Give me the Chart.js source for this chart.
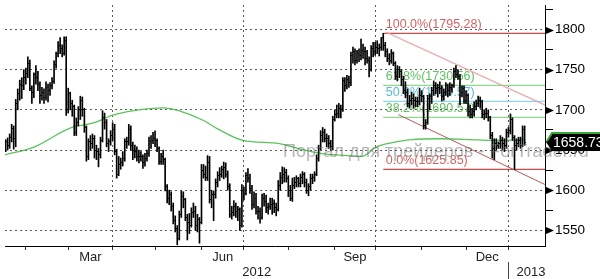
<!DOCTYPE html>
<html>
<head>
<meta charset="utf-8">
<title>Gold 2012</title>
<script src="https://cdn.jsdelivr.net/npm/chart.js@4.4.1/dist/chart.umd.min.js"></script>
<style>
html,body{margin:0;padding:0;background:#fff;overflow:hidden}
#box{position:relative;width:600px;height:279px}
canvas{display:block}
</style>
</head>
<body>
<div id="box"><canvas id="chart" width="600" height="279"></canvas></div>
<script>
// ---------------- DATA ----------------
// one bar per weekday, 2012-01-18 .. 2013-01-11
const open = [
1652,1660,1656,
1666,1677,1664,1708,1720, 1732,1730,1740,1745,1758, 1727,1722,1744,1740,1732, 1718,1722,1715,1728,1724,
1730,1735,1757,1770,1780, 1776,1770,1786,1700,1720, 1708,1704,1672,1684,1700, 1712,1700,1678,1642,1660,
1658,1664,1650,1648,1644, 1662,1690,1684,1658,1660, 1668,1676,1648,1620,1632, 1634,1640,1660,1660,1676,
1656,1650,1648,1642,1642, 1642,1634,1640,1646,1660, 1662,1664,1662,1652,1636, 1642,1638,1604,1590,1594,
1580,1562,1552,1540,1570, 1592,1588,1566,1560,1556, 1572,1574,1556,1564,1560, 1624,1620,1616,1634,1588,
1594,1594,1610,1618,1620, 1626,1628,1620,1604,1570, 1572,1580,1574,1576,1556, 1600,1596,1618,1614,1602,
1582,1590,1574,1574,1566, 1590,1586,1578,1580,1582, 1584,1578,1576,1606,1616, 1620,1622,1614,1600,1590,
1606,1610,1614,1608,1616, 1620,1610,1600,1604,1614, 1616,1620,1640,1652,1668, 1672,1664,1664,1658,1654,
1688,1694,1696,1702,1700, 1736,1730,1738,1734,1768, 1772,1762,1770,1768,1774, 1772,1764,1762,1750,1776,
1772,1778,1776,1778,1790, 1780,1772,1764,1762,1770, 1758,1742,1750,1748,1738, 1724,1722,1708,1712,1714,
1712,1710,1710,1718,1716, 1680,1684,1714,1716,1724, 1730,1726,1728,1726,1716, 1722,1730,1724,1728,1730,
1748,1744,1742,1722,1726, 1712,1718,1698,1694,1698, 1704,1708,1712,1710,1694, 1696,1696,1690,1668,1652,
1658,1656,1658,1662,1658, 1656,1672,1674,1688,1666, 1656,1658,1662,1656,1676
];
const high = [
1663,1665,1670,
1682,1680,1713,1726,1737, 1740,1750,1752,1766,1762, 1730,1746,1755,1748,1735, 1728,1726,1735,1732,1734,
1740,1761,1772,1785,1790, 1781,1791,1791,1727,1722, 1712,1706,1690,1704,1717, 1716,1702,1680,1664,1668,
1670,1668,1656,1652,1666, 1699,1696,1688,1664,1674, 1684,1682,1651,1642,1640, 1648,1664,1666,1682,1680,
1660,1656,1654,1650,1648, 1644,1646,1650,1666,1668, 1672,1674,1664,1654,1646, 1650,1640,1607,1600,1598,
1584,1568,1556,1574,1599, 1598,1590,1570,1571,1578, 1584,1580,1570,1566,1632, 1632,1630,1643,1642,1600,
1599,1614,1623,1628,1630, 1635,1634,1624,1608,1580, 1587,1584,1580,1578,1607, 1604,1622,1627,1620,1606,
1598,1596,1580,1578,1595, 1596,1594,1584,1590,1590, 1588,1584,1612,1622,1629, 1628,1626,1618,1606,1615,
1616,1618,1616,1620,1623, 1622,1614,1608,1620,1620, 1623,1644,1656,1674,1678, 1676,1670,1668,1662,1692,
1700,1706,1708,1706,1740, 1740,1743,1742,1772,1778, 1776,1774,1776,1788,1782, 1778,1774,1766,1780,1784,
1784,1786,1782,1790,1795.28, 1784,1776,1770,1775,1772, 1760,1755,1754,1750,1742, 1735,1726,1718,1722,1720,
1716,1716,1727,1724,1718, 1688,1718,1720,1728,1736, 1734,1732,1735,1730,1726, 1734,1732,1734,1732,1752,
1755,1750,1744,1730,1730, 1724,1720,1706,1702,1710, 1712,1717,1716,1712,1700, 1702,1700,1692,1672,1664,
1664,1660,1668,1666,1664, 1676,1678,1695,1690,1668, 1664,1666,1666,1680,1680
];
const low = [
1648,1650,1652,
1660,1651,1654,1700,1712, 1714,1725,1732,1740,1724, 1708,1715,1732,1724,1708, 1712,1708,1712,1710,1718,
1726,1733,1752,1766,1770, 1766,1768,1693,1696,1700, 1692,1668,1668,1680,1688, 1692,1672,1636,1638,1650,
1652,1640,1638,1629,1640, 1660,1676,1654,1648,1656, 1662,1644,1615,1618,1626, 1630,1636,1652,1656,1650,
1638,1640,1636,1634,1636, 1627,1630,1636,1642,1652, 1658,1654,1648,1632,1632, 1632,1599,1584,1582,1574,
1558,1548,1532,1538,1566, 1578,1562,1538,1546,1554, 1566,1550,1548,1534,1558, 1615,1612,1612,1584,1578,
1562,1590,1604,1612,1616, 1614,1616,1600,1566,1564, 1568,1566,1562,1550,1554, 1588,1594,1610,1596,1576,
1578,1570,1564,1559,1564, 1580,1572,1570,1576,1570, 1572,1568,1574,1600,1608, 1610,1610,1592,1587,1586,
1602,1604,1604,1604,1608, 1604,1596,1593,1600,1608, 1611,1618,1636,1650,1660, 1660,1654,1652,1650,1650,
1686,1690,1690,1690,1698, 1723,1726,1728,1730,1758, 1756,1758,1760,1762,1764, 1756,1758,1741,1748,1766,
1768,1770,1767,1774,1774, 1766,1760,1756,1758,1755, 1738,1736,1740,1730,1720, 1715,1704,1702,1706,1702,
1704,1704,1706,1710,1676, 1676,1682,1700,1708,1718, 1720,1716,1720,1711,1712, 1718,1716,1718,1722,1728,
1740,1738,1706,1716,1708, 1708,1692,1690,1690,1692, 1700,1704,1702,1690,1688, 1690,1686,1664,1640,1638,
1650,1652,1652,1650,1648, 1652,1666,1670,1662,1625.85, 1650,1654,1652,1654,1656
];
const close = [
1660,1656,1666,
1677,1664,1708,1720,1732, 1730,1740,1745,1758,1727, 1722,1744,1740,1732,1718, 1722,1715,1728,1724,1730,
1735,1757,1770,1780,1776, 1770,1786,1700,1720,1708, 1704,1672,1684,1700,1712, 1700,1678,1642,1660,1658,
1664,1650,1648,1644,1662, 1690,1684,1658,1660,1668, 1676,1648,1620,1632,1634, 1640,1660,1660,1676,1656,
1650,1648,1642,1642,1642, 1634,1640,1646,1660,1662, 1664,1662,1652,1636,1642, 1638,1604,1590,1594,1580,
1562,1552,1540,1570,1592, 1588,1566,1560,1556,1572, 1574,1556,1564,1560,1624, 1620,1616,1634,1588,1594,
1594,1610,1618,1620,1626, 1628,1620,1604,1570,1572, 1580,1574,1576,1556,1600, 1596,1618,1614,1602,1582,
1590,1574,1574,1566,1590, 1586,1578,1580,1582,1584, 1578,1576,1606,1616,1620, 1622,1614,1600,1590,1606,
1610,1614,1608,1616,1620, 1610,1600,1604,1614,1616, 1620,1640,1652,1668,1672, 1664,1664,1658,1654,1688,
1694,1696,1702,1700,1736, 1730,1738,1734,1768,1772, 1762,1770,1768,1774,1772, 1764,1762,1750,1776,1772,
1778,1776,1778,1790,1780, 1772,1764,1762,1770,1758, 1742,1750,1748,1738,1724, 1722,1708,1712,1714,1712,
1710,1710,1718,1716,1680, 1684,1714,1716,1724,1730, 1726,1728,1726,1716,1722, 1730,1724,1728,1730,1748,
1744,1742,1722,1726,1712, 1718,1698,1694,1698,1704, 1708,1712,1710,1694,1696, 1696,1690,1668,1652,1658,
1656,1658,1662,1658,1656, 1672,1674,1688,1666,1656, 1658,1662,1656,1676,1658.73
];
// moving average read at sample points (bar index, price)
const maIndex = [-0.3, 14.4, 31.6, 43.9, 52.7, 63.5, 78.2, 85.6, 97.8, 105.2, 117.5, 135.6, 145.4, 156.7, 166.5, 176.3, 183.7, 191, 201, 215.6, 230.3, 240.1, 257.3];
const maValue = [1644, 1654, 1677, 1684, 1693, 1699, 1702.5, 1699, 1687, 1676, 1662, 1658, 1651.5, 1645.5, 1643.5, 1642, 1654, 1659, 1663, 1664, 1663, 1662, 1662.5];
// Fibonacci retracement levels
const fibPct = ['100.0%', '61.8%', '50.0%', '38.2%', '0.0%'];
const fibValue = [1795.28, 1730.56, 1710.57, 1690.57, 1625.85];
// descending channel (bar index, price)
const chanUpperX = [188.6, 267.1], chanUpperY = [1796.3, 1706];
const chanLowerX = [194.5, 267.1], chanLowerY = [1694, 1607];
// axes
const yMin = 1530.5, yMax = 1830.5, yStep = 25, yLabelStep = 50;
const yTickValues = [1550, 1575, 1600, 1625, 1650, 1675, 1700, 1725, 1750, 1775, 1800, 1825];
const xMin = -0.3, xMax = 267.1;
const monthNames = ['Jan','Feb','Mar','Apr','May','Jun','Jul','Aug','Sep','Oct','Nov','Dec'];
const labelledMonths = [2, 5, 8, 11];
const quarterMonths = [0, 3, 6, 9];
const watermark = 'Портал для трейдеров - ForTrader.ru';

// ---------------- derived ----------------
const tradeDates = [];
for (let d = new Date(2012, 0, 18); d <= new Date(2013, 0, 11); d.setDate(d.getDate() + 1)) {
  const w = d.getDay();
  if (w !== 0 && w !== 6) tradeDates.push(new Date(d));
}
const monthStarts = [];
tradeDates.forEach((d, i) => {
  if (i > 0 && d.getMonth() !== tradeDates[i - 1].getMonth()) monthStarts.push({ i, m: d.getMonth(), y: d.getFullYear() });
});
const labelTicks = [];
monthStarts.forEach((s, k) => {
  const nx = monthStarts[k + 1];
  if (nx && labelledMonths.includes(s.m)) labelTicks.push({ v: (s.i + nx.i) / 2, t: monthNames[s.m] });
});
const monthStartIdx = monthStarts.map(s => s.i);
const quarterIdx = monthStarts.filter(s => quarterMonths.includes(s.m)).map(s => s.i);
const yearStart = monthStarts.find(s => s.y === 2013).i;
const peakIdx = high.indexOf(Math.max(...high));

const idx = open.map((_, i) => i);
const hlData = idx.map(i => ({ x: i, y: [low[i], high[i]] }));
const openData = idx.map(i => ({ x: i, y: open[i] }));
const closeData = idx.map(i => ({ x: i, y: close[i] }));
const maData = maIndex.map((v, k) => ({ x: v, y: maValue[k] }));

function tickImage(side) {
  const c = document.createElement('canvas');
  c.width = 3; c.height = 1;
  const g = c.getContext('2d');
  g.fillStyle = '#000';
  if (side < 0) g.fillRect(0, 0, 1, 1); else g.fillRect(2, 0, 1, 1);
  return c;
}
const openImg = tickImage(-1), closeImg = tickImage(1);

const fibLine = ['#cc4a4a', '#8fd88f', '#8ed6ea', '#8fd88f', '#cc4a4a'];
const fibText = ['#d26464', '#62c262', '#5ab8da', '#62c262', '#d26464'];

const fibSets = fibValue.map((v, k) => ({
  type: 'line', order: 3,
  data: [{ x: peakIdx, y: v }, { x: xMax, y: v }],
  borderColor: fibLine[k], borderWidth: 1.2, pointRadius: 0, fill: false
}));

const FONT = '"Liberation Sans", Arial, sans-serif';
const GRID = '#5a5a5a';
const DASH = [2, 3];

const overlay = {
  id: 'overlay',
  beforeDatasetsDraw(chart) {
    const { ctx, scales: { x, y } } = chart;
    ctx.save();
    ctx.font = '12.5px ' + FONT;
    ctx.textAlign = 'left';
    ctx.textBaseline = 'alphabetic';
    const px = x.getPixelForValue(peakIdx) + 2.5;
    fibValue.forEach((v, k) => {
      ctx.fillStyle = fibText[k];
      ctx.fillText(fibPct[k] + '(' + v.toFixed(2) + ')', px, y.getPixelForValue(v) - 5);
    });
    ctx.restore();
  },
  afterDraw(chart) {
    const { ctx, chartArea, scales: { x, y } } = chart;
    ctx.save();
    // arrows on major y ticks
    ctx.fillStyle = '#000';
    y.ticks.forEach(t => {
      if (t.value % yLabelStep === 0) {
        const py = Math.round(y.getPixelForValue(t.value)) + 0.5;
        ctx.beginPath();
        ctx.moveTo(y.left + 1, py - 3.5);
        ctx.lineTo(y.left + 9, py);
        ctx.lineTo(y.left + 1, py + 3.5);
        ctx.closePath();
        ctx.fill();
      }
    });
    // year labels
    ctx.font = '13px ' + FONT;
    ctx.fillStyle = '#222';
    ctx.textBaseline = 'alphabetic';
    const xj = x.getPixelForValue(yearStart);
    ctx.textAlign = 'center';
    ctx.fillText('2012', (chartArea.left + xj) / 2, 276);
    ctx.textAlign = 'left';
    ctx.fillText('2013', xj + 8, 276);
    ctx.strokeStyle = '#444';
    ctx.lineWidth = 1;
    ctx.beginPath();
    ctx.moveTo(Math.round(xj) + 0.5, 262);
    ctx.lineTo(Math.round(xj) + 0.5, 279);
    ctx.stroke();
    // watermark
    ctx.font = '18px ' + FONT;
    ctx.fillStyle = 'rgba(110,110,110,0.5)';
    ctx.textAlign = 'left';
    ctx.fillText(watermark, 283, 157);
    // last price box
    const last = close[close.length - 1];
    const py = y.getPixelForValue(last);
    ctx.beginPath();
    ctx.moveTo(y.left + 1, py - 1);
    ctx.lineTo(y.left + 7, py - 11);
    ctx.lineTo(chart.width, py - 11);
    ctx.lineTo(chart.width, py + 8);
    ctx.lineTo(y.left + 7, py + 8);
    ctx.closePath();
    ctx.fillStyle = '#000';
    ctx.fill();
    ctx.beginPath();
    ctx.moveTo(y.left + 2, py - 2);
    ctx.lineTo(y.left + 7, py - 10);
    ctx.lineTo(chart.width, py - 10);
    ctx.strokeStyle = '#35a835';
    ctx.lineWidth = 2;
    ctx.stroke();
    ctx.fillStyle = '#fff';
    ctx.font = '14px ' + FONT;
    ctx.textBaseline = 'middle';
    ctx.fillText(last.toFixed(2), y.left + 8, py);
    ctx.restore();
  }
};

new Chart(document.getElementById('chart'), {
  type: 'bar',
  data: {
    datasets: [
      { type: 'bar', order: 0, data: hlData, backgroundColor: '#000', borderWidth: 0, barThickness: 1, grouped: false },
      { type: 'scatter', order: 0, data: openData, pointStyle: openImg, pointRadius: 3, showLine: false },
      { type: 'scatter', order: 0, data: closeData, pointStyle: closeImg, pointRadius: 3, showLine: false },
      { type: 'line', order: 2, data: maData, borderColor: 'rgba(72,190,72,0.9)', borderWidth: 1.3, pointRadius: 0, cubicInterpolationMode: 'monotone', fill: false },
      { type: 'line', order: 3, data: chanUpperX.map((v, k) => ({ x: v, y: chanUpperY[k] })), borderColor: 'rgba(228,168,168,0.9)', borderWidth: 1.4, pointRadius: 0 },
      { type: 'line', order: 3, data: chanLowerX.map((v, k) => ({ x: v, y: chanLowerY[k] })), borderColor: '#b85858', borderWidth: 1, pointRadius: 0 },
      ...fibSets
    ]
  },
  options: {
    responsive: false,
    animation: false,
    devicePixelRatio: 1,
    events: [],
    layout: { padding: 0 },
    plugins: { legend: { display: false }, tooltip: { enabled: false } },
    scales: {
      x: {
        type: 'linear', position: 'bottom', min: xMin, max: xMax, offset: false,
        afterBuildTicks(s) {
          const vals = monthStartIdx.concat(labelTicks.map(l => l.v)).sort((a, b) => a - b);
          s.ticks = vals.map(v => ({ value: v }));
        },
        afterFit(s) { s.height = 33; s.paddingLeft = 0; s.paddingRight = 0; },
        ticks: {
          autoSkip: false, maxRotation: 0, minRotation: 0, padding: 0,
          color: '#222', font: { family: FONT, size: 13 },
          callback(v) { const l = labelTicks.find(t => t.v === v); return l ? l.t : ''; }
        },
        grid: {
          offset: false, drawOnChartArea: true, tickLength: 4, lineWidth: 1, borderDash: DASH,
          color: c => (c.tick && quarterIdx.includes(c.tick.value)) ? GRID : 'rgba(0,0,0,0)',
          tickColor: c => (c.tick && monthStartIdx.includes(c.tick.value)) ? '#333' : 'rgba(0,0,0,0)'
        },
        border: { display: true, color: '#000', width: 1, dash: DASH }
      },
      y: {
        type: 'linear', position: 'right', min: yMin, max: yMax,
        afterBuildTicks(s) { s.ticks = yTickValues.map(v => ({ value: v })); },
        afterFit(s) { s.width = 55; s.paddingTop = 0; s.paddingBottom = 0; },
        ticks: {
          stepSize: yStep, includeBounds: false, padding: 2,
          color: '#000', font: { family: FONT, size: 13.5 },
          callback(v) { return v % yLabelStep === 0 ? String(v) : ''; }
        },
        grid: {
          tickLength: 8, lineWidth: 1, borderDash: DASH,
          color: c => (c.tick && c.tick.value % yLabelStep === 0) ? GRID : 'rgba(0,0,0,0)',
          tickColor: c => (c.tick && c.tick.value % yLabelStep === 0) ? 'rgba(0,0,0,0)' : '#000'
        },
        border: { display: true, color: '#000', width: 1, dash: DASH }
      }
    }
  },
  plugins: [overlay]
});
</script>
</body>
</html>
